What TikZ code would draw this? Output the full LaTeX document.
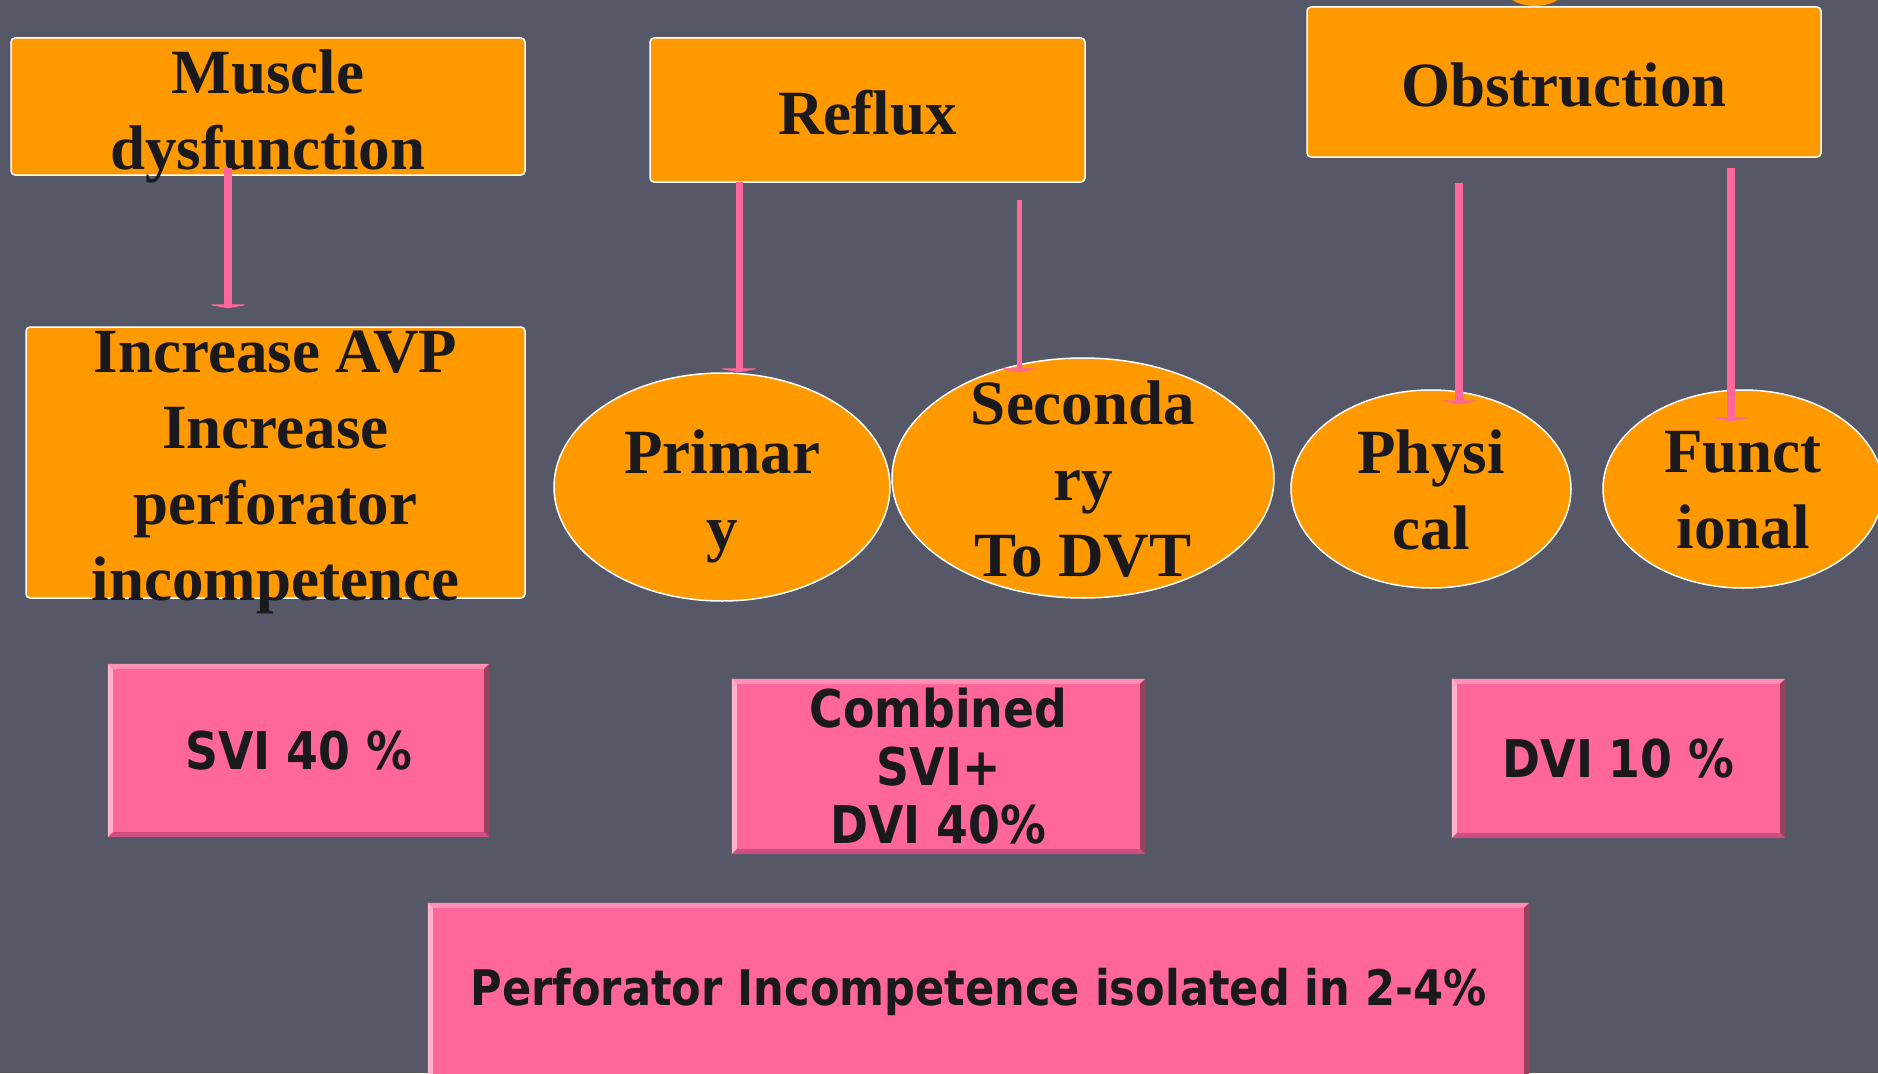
\documentclass[tikz,border=0pt]{standalone}
\usepackage{fontspec}
\setmainfont{Liberation Serif}
\newfontfamily\pinkfont{DejaVu Sans}[FakeStretch=0.88]
\usetikzlibrary{arrows.meta,shapes.geometric}

\definecolor{slide}{RGB}{86,88,103}
\definecolor{boxorange}{HTML}{FF9900}
\definecolor{boxpink}{HTML}{FF6699}
\definecolor{pinklight}{HTML}{FF8FB3}
\definecolor{pinkdark}{HTML}{99405F}
\definecolor{pinkshade}{HTML}{CC4F7F}
\definecolor{inktext}{HTML}{19191E}

% raised edges of the pink boxes
\newcommand{\bevel}[1]{%
  \fill[pinklight] (#1.north west) -- (#1.north east) -- ([xshift=-5pt,yshift=-5pt]#1.north east) -- ([xshift=5pt,yshift=-5pt]#1.north west) -- cycle;
  \fill[pinklight!70!white] (#1.north west) -- ([xshift=5pt,yshift=-5pt]#1.north west) -- ([xshift=5pt,yshift=5pt]#1.south west) -- (#1.south west) -- cycle;
  \fill[pinkdark] (#1.north east) -- (#1.south east) -- ([xshift=-5pt,yshift=5pt]#1.south east) -- ([xshift=-5pt,yshift=-5pt]#1.north east) -- cycle;
  \fill[pinkshade] (#1.south west) -- (#1.south east) -- ([xshift=-5pt,yshift=5pt]#1.south east) -- ([xshift=5pt,yshift=5pt]#1.south west) -- cycle;}

\begin{document}
\begin{tikzpicture}[x=1pt, y=-1pt,
  titlebox/.style={rectangle, draw=white, line width=1.5pt, rounded corners=4pt, fill=boxorange, inner sep=0pt},
  causeoval/.style={ellipse, draw=white, line width=1.5pt, fill=boxorange, inner sep=0pt},
  titletext/.style={text=inktext, font=\bfseries\fontsize{63}{76}\selectfont, align=center, inner sep=0pt},
  pinkbox/.style={rectangle, fill=boxpink, inner sep=0pt},
  pinktext/.style={text=inktext, font=\pinkfont\bfseries\fontsize{52}{58}\selectfont, align=center, inner sep=0pt},
  link/.style={draw=boxpink, line width=8pt, -{Triangle[width=44pt,length=4pt]}}]
	\useasboundingbox (0,0) rectangle (1878,1073);
	\clip (0,0) rectangle (1878,1073);
	\fill[slide] (0,0) rectangle (1878,1073);
	\fill[boxorange] (1535,-14) ellipse (32 and 20);

	\node[titlebox, minimum width=514pt, minimum height=137pt] (muscle) at (268,106.5) {};
	\node[titletext] (musclet) at (268,116) {Muscle\\dysfunction};
	\node[titlebox, minimum width=499pt, minimum height=271pt] (avp) at (275.5,462.5) {};
	\node[titletext] (avpt) at (275.5,472) {Increase AVP\\Increase\\perforator\\incompetence};
	\node[titlebox, minimum width=435pt, minimum height=144pt] (reflux) at (867.5,110) {};
	\node[titletext] (refluxt) at (867.5,113) {Reflux};
	\node[titlebox, minimum width=514pt, minimum height=150pt] (obstr) at (1564,82) {};
	\node[titletext] (obstrt) at (1564,85) {Obstruction};

	\node[causeoval, minimum width=336pt, minimum height=228pt] (primary) at (722,487) {};
	\node[titletext] (primaryt) at (722,496) {Primar\\y};
	\node[causeoval, minimum width=382pt, minimum height=240pt] (secondary) at (1083,478) {};
	\node[titletext] (secondaryt) at (1083,479) {Seconda\\ry\\To DVT};
	\node[causeoval, minimum width=280pt, minimum height=198pt] (physical) at (1431,489) {};
	\node[titletext] (physicalt) at (1431,490) {Physi\\cal};
	\node[causeoval, minimum width=280pt, minimum height=198pt] (functional) at (1743,489) {};
	\node[titletext] (functionalt) at (1743,490) {Funct\\ional};

	\node[pinkbox, minimum width=381pt, minimum height=173pt] (svi) at (298.5,750.5) {};
	\bevel{svi}
	\node[pinktext] (svit) at (svi) {SVI 40 \%};
	\node[pinkbox, minimum width=413pt, minimum height=175pt] (combined) at (938.5,766.5) {};
	\bevel{combined}
	\node[pinktext] (combinedt) at (combined) {Combined\\SVI+\\DVI 40\%};
	\node[pinkbox, minimum width=333pt, minimum height=159pt] (dvi) at (1618.5,758.5) {};
	\bevel{dvi}
	\node[pinktext] (dvit) at (dvi) {DVI 10 \%};
	\node[pinkbox, minimum width=1101pt, minimum height=190pt] (perf) at (978.5,998) {};
	\bevel{perf}
	\node[pinktext, font=\pinkfont\bfseries\fontsize{49}{58}\selectfont] (perft) at (978.5,992) {Perforator Incompetence isolated in 2-4\%};

	\coordinate (m1) at (228,168);
	\coordinate (r1) at (739,182);
	\coordinate (r2) at (1019,200);
	\coordinate (o1) at (1459,183);
	\coordinate (o2) at (1731,168);
	\draw[link] (m1) -- (m1 |- avp.north) [shorten >=18pt];
	\draw[link, line width=7pt] (r1) -- (r1 |- primary.north);
	\draw[link, line width=5pt] (r2) -- (r2 |- primary.north);
	\draw[link] (o1) -- (o1 |- physical.north) [shorten >=-15pt];
	\draw[link] (o2) -- (o2 |- functional.north) [shorten >=-32pt];
\end{tikzpicture}
\end{document}
